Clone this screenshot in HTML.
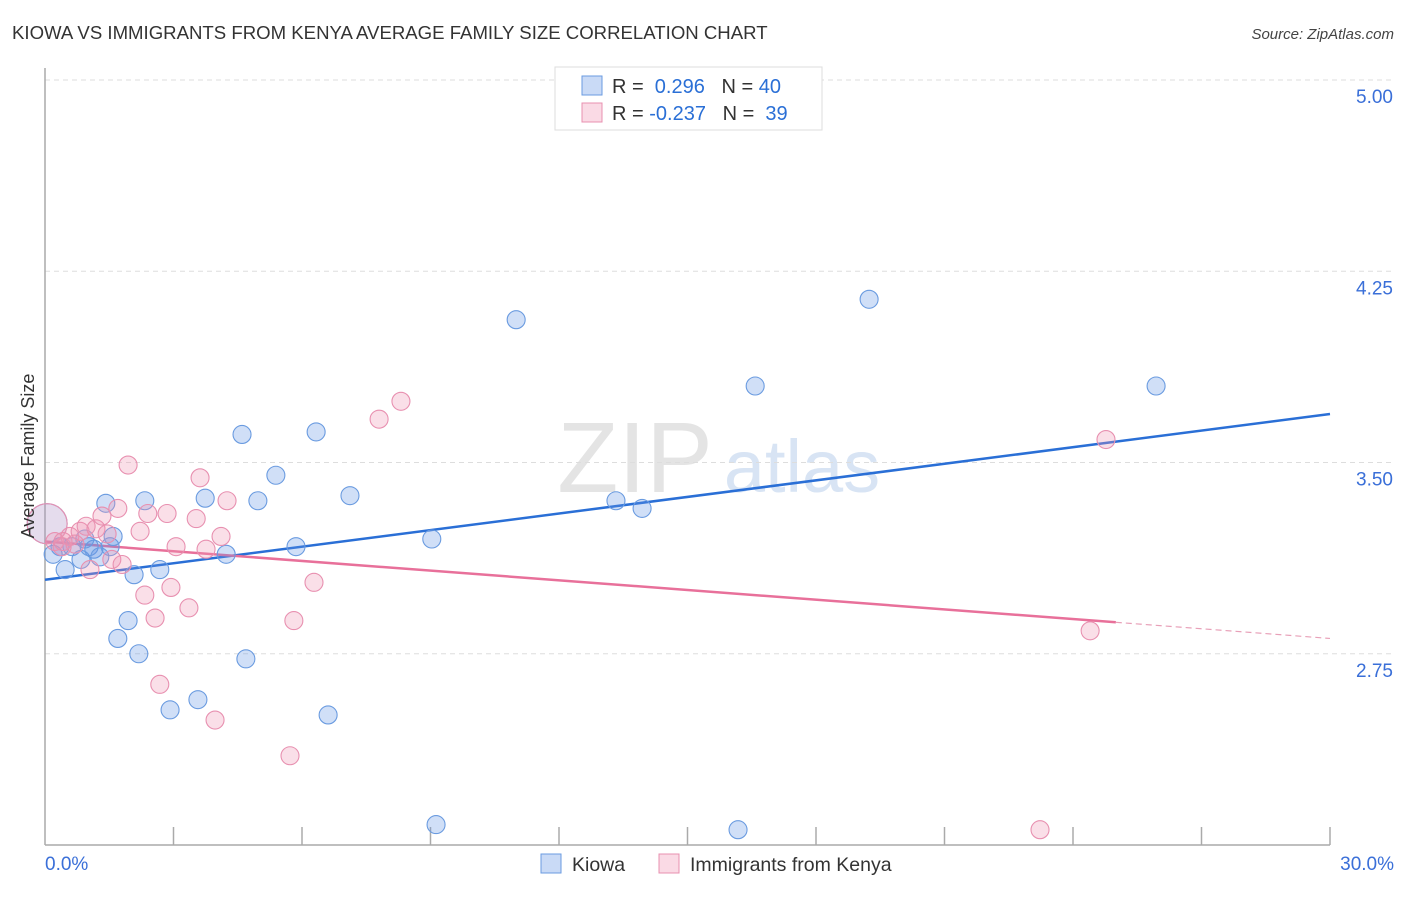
<!DOCTYPE html>
<html><head><meta charset="utf-8">
<style>
body{margin:0;background:#fff;font-family:"Liberation Sans",sans-serif;}
svg text{font-family:"Liberation Sans",sans-serif;}
</style></head>
<body>
<svg id="chart" width="1406" height="892" xmlns="http://www.w3.org/2000/svg">
<text x="12" y="39" font-size="18.6" fill="#333">KIOWA VS IMMIGRANTS FROM KENYA AVERAGE FAMILY SIZE CORRELATION CHART</text>
<text x="1394" y="39" font-size="15" fill="#444" text-anchor="end" font-style="italic">Source: ZipAtlas.com</text>
<g>
<text x="635" y="492" font-size="100" fill="#e4e4e4" text-anchor="middle" font-family="Liberation Serif">ZIP</text>
<text x="802" y="492" font-size="74" fill="#d8e4f4" text-anchor="middle">atlas</text>
</g>
<g id="grid"></g>
<g id="axes"></g>
<g id="lines"></g>
<g id="pts"></g>
<text transform="translate(34,456) rotate(-90)" font-size="18" fill="#333" text-anchor="middle">Average Family Size</text>
<g>
<rect x="555" y="67" width="267" height="63" fill="#fff" stroke="#ddd"/>
<rect x="582" y="76" width="20" height="19" fill="rgba(100,150,230,0.35)" stroke="#6a9be0"/>
<rect x="582" y="103" width="20" height="19" fill="rgba(240,150,180,0.35)" stroke="#e890b0"/>
<text x="612" y="93" font-size="20" fill="#333">R = <tspan fill="#2a6fd6">&#160;0.296</tspan>&#160;&#160;&#160;N = <tspan fill="#2a6fd6">40</tspan></text>
<text x="612" y="120" font-size="20" fill="#333">R = <tspan fill="#2a6fd6">-0.237</tspan>&#160;&#160;&#160;N = <tspan fill="#2a6fd6">&#160;39</tspan></text>
</g>
<g>
<rect x="541" y="854" width="20" height="19" fill="rgba(100,150,230,0.35)" stroke="#6a9be0"/>
<text x="572" y="871" font-size="19.5" fill="#333">Kiowa</text>
<rect x="659" y="854" width="20" height="19" fill="rgba(240,150,180,0.35)" stroke="#e890b0"/>
<text x="690" y="871" font-size="19.5" fill="#333">Immigrants from Kenya</text>
</g>
</svg>
<script>
const yTicks=[5.00,4.25,3.50,2.75];
const xTickLabels=["0.0%","30.0%"];
const kiowaX=[0.05,0.19,0.47,0.63,0.84,1.03,1.14,1.28,1.42,1.52,1.59,2.08,1.94,1.70,2.19,2.33,2.68,2.92,3.57,3.74,4.23,4.60,4.69,4.97,5.39,5.86,6.33,6.61,7.12,9.03,9.13,11.00,13.33,13.94,16.18,16.58,19.24,25.94,0.35,0.93];
const kiowaY=[3.26,3.14,3.08,3.17,3.12,3.17,3.16,3.13,3.34,3.17,3.21,3.06,2.88,2.81,2.75,3.35,3.08,2.53,2.57,3.36,3.14,3.61,2.73,3.35,3.45,3.17,3.62,2.51,3.37,3.20,2.08,4.06,3.35,3.32,2.06,3.80,4.14,3.80,3.17,3.20];
const kenyaX=[0.05,0.23,0.40,0.58,0.82,0.96,1.05,1.19,1.33,1.45,1.56,1.70,1.80,1.94,2.22,2.33,2.40,2.57,2.68,2.85,2.94,3.06,3.36,3.53,3.62,3.76,3.97,4.11,4.25,5.72,5.81,6.28,7.80,8.31,23.23,24.40,24.77,0.42,0.70];
const kenyaY=[3.26,3.19,3.17,3.21,3.23,3.25,3.08,3.24,3.29,3.22,3.12,3.32,3.10,3.49,3.23,2.98,3.30,2.89,2.63,3.30,3.01,3.17,2.93,3.28,3.44,3.16,2.49,3.21,3.35,2.35,2.88,3.03,3.67,3.74,2.06,2.84,3.59,3.19,3.18];
const kiowaTrend=[3.04,3.69];
const kenyaTrend=[3.19,2.81];
const NS="http://www.w3.org/2000/svg";
const X0=45,X1=1330,Y0=845,Y1=80;
const sx=v=>X0+(v/30)*(X1-X0);
const sy=v=>Y0-(v-2)/3*(Y0-Y1);
function mk(t,a,p){const e=document.createElementNS(NS,t);for(const k in a)e.setAttribute(k,a[k]);document.getElementById(p).appendChild(e);return e;}
yTicks.forEach(t=>{
 const l=mk('line',{x1:X0,x2:1394,y1:sy(t),y2:sy(t),stroke:'#ddd','stroke-dasharray':'5,4'},'grid');
 
 
 const tx=mk('text',{x:1393,y:sy(t)+23,'font-size':19,fill:'#3a6fd8','text-anchor':'end'},'grid');
 tx.textContent=t.toFixed(2);
 
 
});
let a=mk('line',{x1:X0,x2:X0,y1:68,y2:Y0,stroke:'#aaa','stroke-width':1.5},'axes');


a=mk('line',{x1:X0,x2:X1,y1:Y0,y2:Y0,stroke:'#aaa','stroke-width':1.5},'axes');


for(let i=1;i<=10;i++){const t=mk('line',{x1:sx(i*3),x2:sx(i*3),y1:827,y2:Y0,stroke:'#aaa','stroke-width':1.5},'axes');
 
 }
[[0,'start',45],[30,'end',1394]].forEach((d,i)=>{const t=mk('text',{x:d[2],y:870,'font-size':19,fill:'#3a6fd8','text-anchor':d[1]},'axes');t.textContent=xTickLabels[i];
 
 });
function pts(xs,ys,fill,stroke,name){xs.forEach((x,i)=>{const c=mk('circle',{cx:sx(x),cy:sy(ys[i]),r:i==0?20:9,fill:i==0?fill.replace('0.3','0.18'):fill,stroke:stroke,'stroke-width':1.1},'pts');
 
 });}
pts(kiowaX,kiowaY,'rgba(100,150,230,0.3)','#6a9be0','kiowa-point');
pts(kenyaX,kenyaY,'rgba(240,150,180,0.3)','#e890b0','kenya-point');
let l=mk('line',{x1:sx(0),y1:sy(kiowaTrend[0]),x2:sx(30),y2:sy(kiowaTrend[1]),stroke:'#2a6fd6','stroke-width':2.5},'lines');


const ky=x=>kenyaTrend[0]+(kenyaTrend[1]-kenyaTrend[0])*x/30;
l=mk('line',{x1:sx(0),y1:sy(ky(0)),x2:sx(25),y2:sy(ky(25)),stroke:'#e8709a','stroke-width':2.5},'lines');


l=mk('line',{x1:sx(25),y1:sy(ky(25)),x2:sx(30),y2:sy(ky(30)),stroke:'#e8a0b8','stroke-width':1.2,'stroke-dasharray':'6,4'},'lines');


</script>
</body></html>
